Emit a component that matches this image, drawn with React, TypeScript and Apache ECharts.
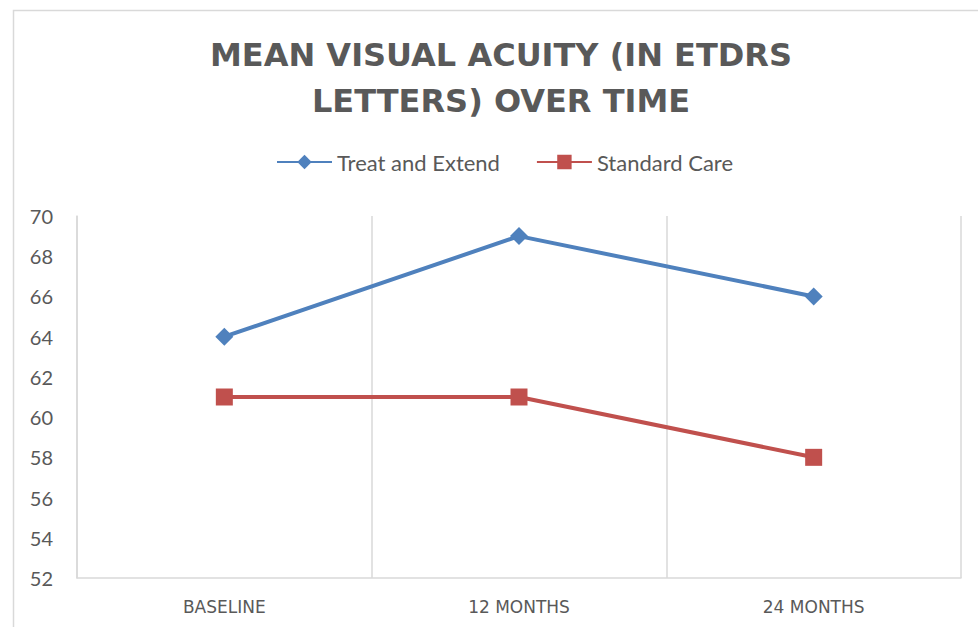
import React, { useEffect, useRef } from "react";
import * as echarts from "echarts";

const categories = ["BASELINE", "12 MONTHS", "24 MONTHS"];
const treatAndExtend = [64, 69, 66];
const standardCare = [61, 61, 58];
const titleLines = ["MEAN VISUAL ACUITY (IN ETDRS", "LETTERS) OVER TIME"];
const seriesNames = ["Treat and Extend", "Standard Care"];

const FONT = "Lato, 'Open Sans', sans-serif";
const WIDE = "'DejaVu Sans', Lato, sans-serif";
const TXT = "#595959";
const GRID = "#d9d9d9";

export default function App() {
  const ref = useRef<HTMLDivElement>(null);
  useEffect(() => {
    if (!ref.current) return;
    const chart = echarts.init(ref.current, null, { renderer: "svg" });
    chart.setOption({
      animation: false,
      backgroundColor: "#ffffff",
      textStyle: { fontFamily: FONT },
      graphic: [
        {
          type: "rect",
          shape: { x: 13.5, y: 10.5, width: 1000, height: 650 },
          style: { fill: "none", stroke: GRID, lineWidth: 1.5 },
          silent: true,
        },
        {
          type: "text",
          x: 501,
          y: 55,
          style: {
            text: titleLines[0],
            fill: TXT,
            font: `bold 32px ${WIDE}`,
            textAlign: "center",
            textVerticalAlign: "middle",
          },
        },
        {
          type: "text",
          x: 501,
          y: 101,
          style: {
            text: titleLines[1],
            fill: TXT,
            font: `bold 32px ${WIDE}`,
            textAlign: "center",
            textVerticalAlign: "middle",
          },
        },
      ],
      legend: {
        left: 271,
        top: 146,
        itemWidth: 55,
        itemHeight: 18,
        itemGap: 36,
        textStyle: { color: TXT, fontSize: 22, fontFamily: FONT },
        data: seriesNames,
      },
      grid: { left: 77, right: 17, top: 216, bottom: 49, containLabel: false },
      xAxis: {
        type: "category",
        data: categories,
        boundaryGap: true,
        axisLine: { show: true, lineStyle: { color: GRID, width: 1.5 } },
        axisTick: { show: false },
        splitLine: { show: true, lineStyle: { color: GRID, width: 1.5 } },
        axisLabel: { color: TXT, fontSize: 17, margin: 20, fontFamily: WIDE },
      },
      yAxis: {
        type: "value",
        min: 52,
        max: 70,
        interval: 2,
        axisLine: { show: true, lineStyle: { color: GRID, width: 1.5 } },
        axisTick: { show: false },
        splitLine: { show: false },
        axisLabel: { color: TXT, fontSize: 20, margin: 24, fontFamily: FONT },
      },
      series: [
        {
          name: seriesNames[0],
          type: "line",
          data: treatAndExtend,
          symbol: "diamond",
          symbolSize: 18,
          itemStyle: { color: "#4F81BD" },
          lineStyle: { color: "#4F81BD", width: 4 },
        },
        {
          name: seriesNames[1],
          type: "line",
          data: standardCare,
          symbol: "rect",
          symbolSize: 17,
          itemStyle: { color: "#C0504D" },
          lineStyle: { color: "#C0504D", width: 4 },
        },
      ],
    });
    return () => chart.dispose();
  }, []);
  return (
    <div
      ref={ref}
      style={{ position: "fixed", left: 0, top: 0, width: 978, height: 627 }}
    />
  );
}
